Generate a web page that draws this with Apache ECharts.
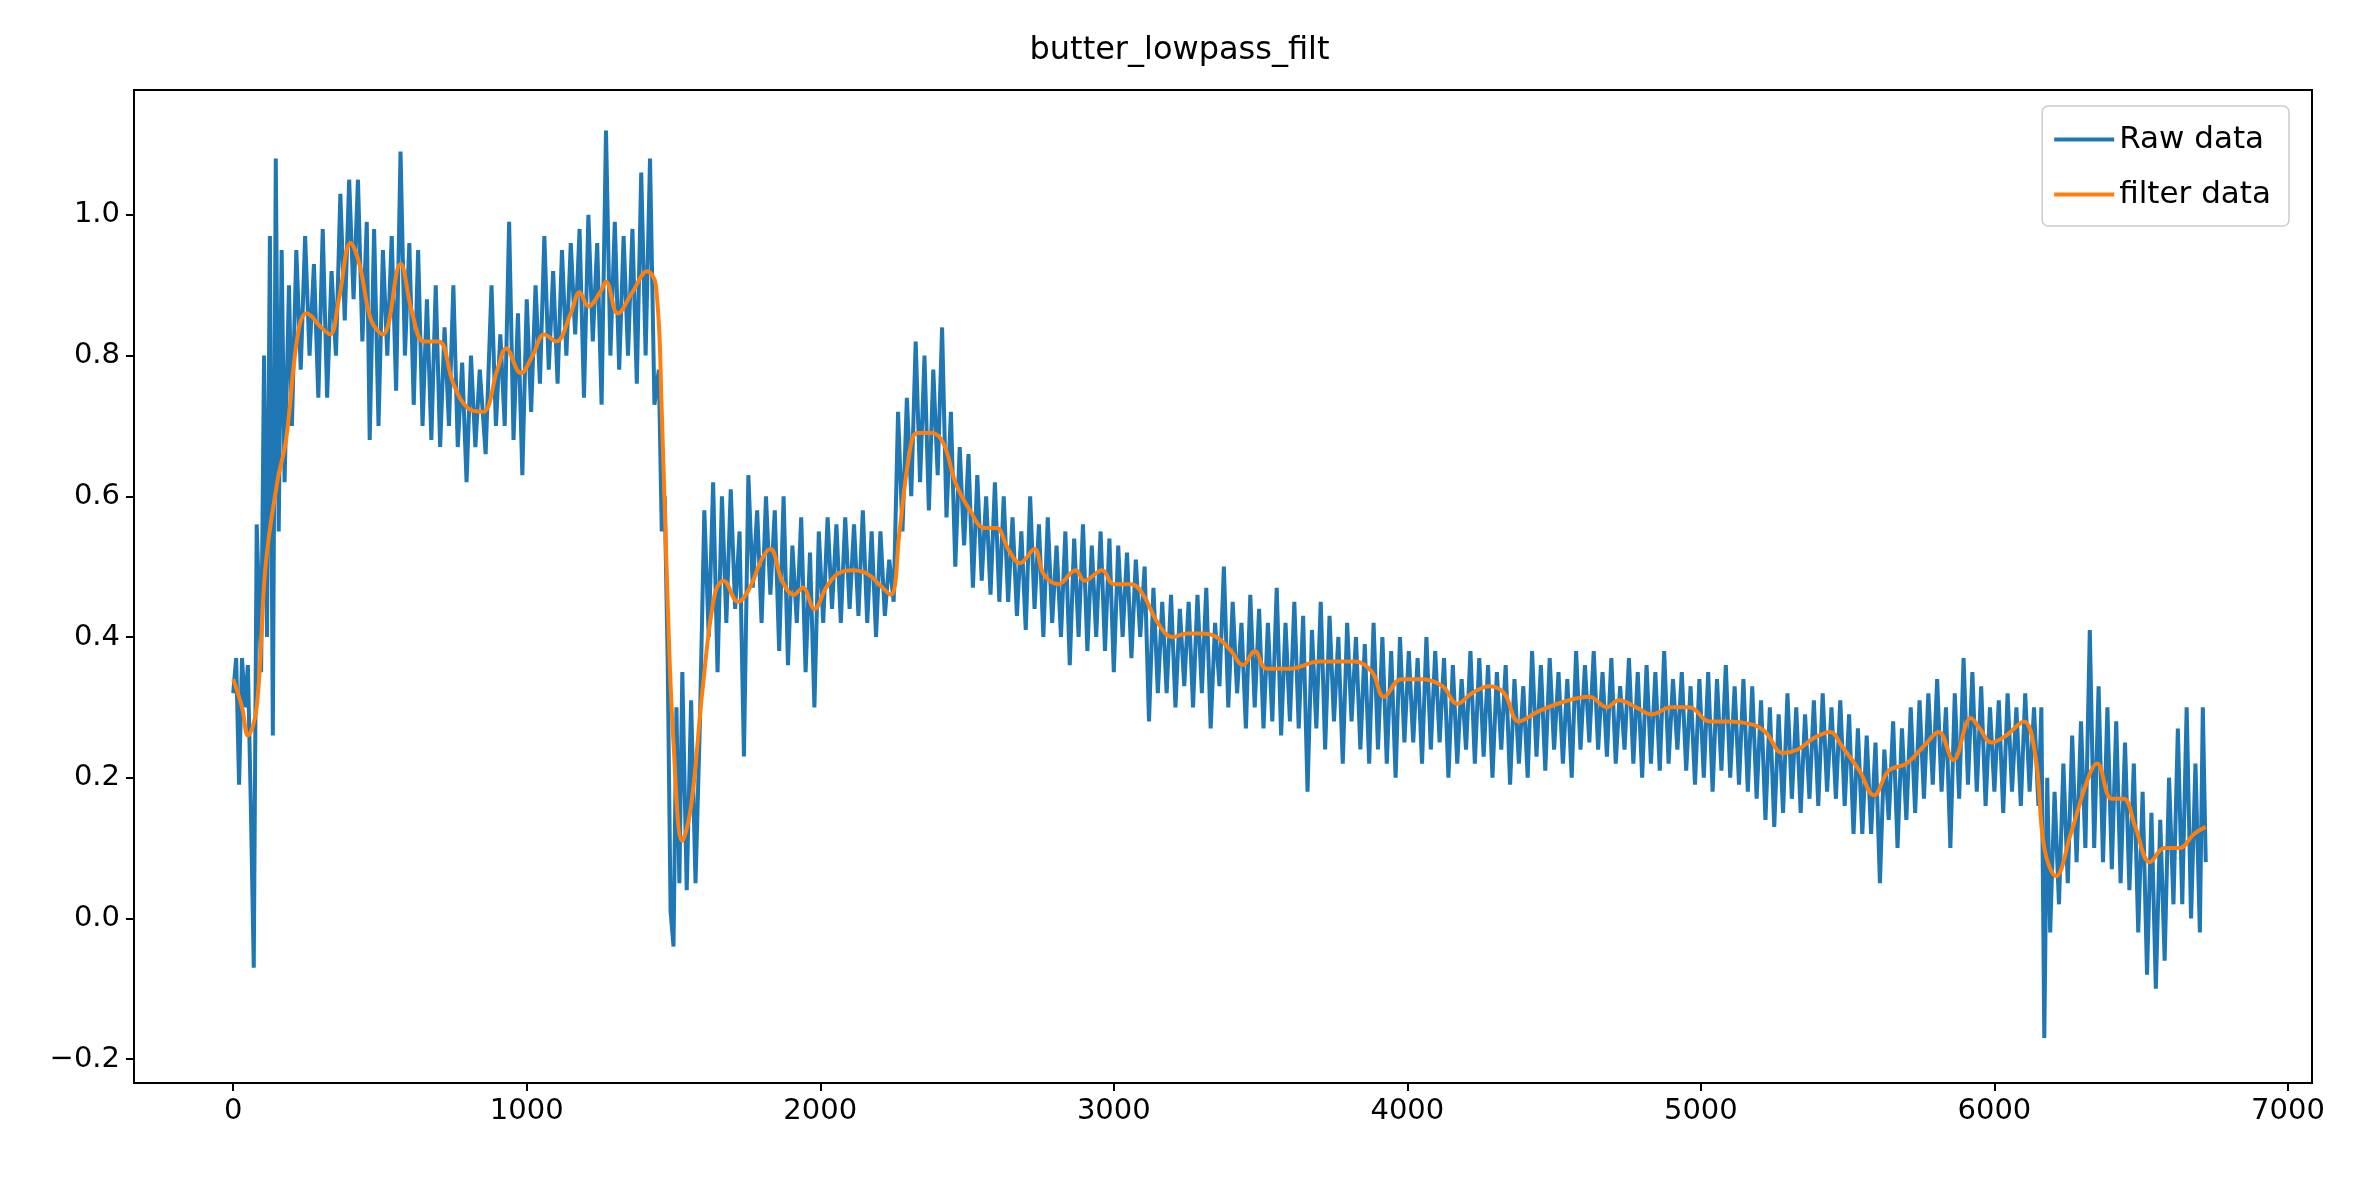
<!DOCTYPE html>
<html><head><meta charset="utf-8">
<script src="https://cdn.jsdelivr.net/npm/echarts@6/dist/echarts.min.js"></script>
<style>html,body{margin:0;padding:0;background:#fff}#c{width:2359px;height:1183px}</style>
</head><body><div id="c"></div>
<script>
const titleText = 'butter_lowpass_filt';
const seriesNames = ['Raw data', 'filter data'];
const yTicks = [-0.2, 0.0, 0.2, 0.4, 0.6, 0.8, 1.0];
const xTicks = [0, 1000, 2000, 3000, 4000, 5000, 6000, 7000];
const rawPoints = [[0,0.32],[10,0.37],[20,0.19],[30,0.37],[40,0.30],[50,0.36],[60,0.16],[70,-0.07],[80,0.56],[95,0.35],[105,0.80],[115,0.40],[125,0.97],[135,0.26],[145,1.08],[155,0.55],[165,0.95],[175,0.62],[190,0.90],[200,0.70],[215,0.95],[230,0.78],[245,0.97],[260,0.80],[275,0.93],[290,0.74],[305,0.98],[320,0.74],[335,0.92],[350,0.80],[365,1.03],[380,0.85],[395,1.05],[410,0.88],[425,1.05],[440,0.82],[455,0.99],[465,0.68],[480,0.98],[495,0.70],[510,0.95],[525,0.80],[540,0.97],[555,0.75],[570,1.09],[585,0.80],[600,0.96],[615,0.73],[630,0.95],[645,0.70],[660,0.88],[675,0.68],[690,0.90],[705,0.67],[720,0.84],[735,0.70],[750,0.90],[765,0.67],[780,0.79],[795,0.62],[810,0.80],[825,0.67],[840,0.78],[860,0.66],[880,0.90],[895,0.70],[910,0.83],[925,0.70],[940,0.99],[955,0.68],[970,0.86],[985,0.63],[1000,0.88],[1015,0.72],[1030,0.90],[1045,0.76],[1060,0.97],[1075,0.78],[1090,0.92],[1105,0.76],[1120,0.95],[1135,0.80],[1150,0.96],[1165,0.83],[1180,0.98],[1195,0.74],[1210,1.00],[1225,0.82],[1240,0.96],[1255,0.73],[1270,1.12],[1285,0.80],[1300,0.99],[1315,0.78],[1330,0.97],[1345,0.80],[1360,0.98],[1375,0.76],[1390,1.06],[1405,0.80],[1420,1.08],[1435,0.73],[1450,0.78],[1460,0.55],[1470,0.60],[1480,0.37],[1490,0.01],[1500,-0.04],[1510,0.30],[1520,0.05],[1530,0.35],[1545,0.04],[1560,0.31],[1575,0.05],[1590,0.28],[1605,0.58],[1620,0.40],[1635,0.62],[1650,0.35],[1665,0.60],[1680,0.42],[1695,0.61],[1710,0.44],[1725,0.55],[1740,0.23],[1755,0.63],[1770,0.47],[1785,0.58],[1800,0.42],[1815,0.60],[1830,0.46],[1845,0.58],[1860,0.38],[1875,0.60],[1890,0.36],[1905,0.53],[1920,0.42],[1935,0.57],[1950,0.35],[1965,0.52],[1980,0.30],[1995,0.55],[2010,0.42],[2025,0.57],[2040,0.44],[2055,0.56],[2070,0.42],[2085,0.57],[2100,0.44],[2115,0.56],[2130,0.43],[2145,0.58],[2160,0.42],[2175,0.55],[2190,0.40],[2205,0.55],[2220,0.43],[2235,0.51],[2250,0.45],[2265,0.72],[2280,0.55],[2295,0.74],[2310,0.60],[2325,0.82],[2340,0.62],[2355,0.80],[2370,0.58],[2385,0.78],[2400,0.63],[2415,0.84],[2430,0.57],[2445,0.72],[2460,0.50],[2475,0.67],[2490,0.53],[2505,0.66],[2520,0.47],[2535,0.63],[2550,0.48],[2565,0.60],[2580,0.46],[2595,0.62],[2610,0.45],[2625,0.60],[2640,0.45],[2655,0.57],[2670,0.43],[2685,0.55],[2700,0.41],[2715,0.60],[2730,0.44],[2745,0.56],[2760,0.40],[2775,0.57],[2790,0.42],[2805,0.53],[2820,0.40],[2835,0.55],[2850,0.36],[2865,0.54],[2880,0.40],[2895,0.56],[2910,0.38],[2925,0.53],[2940,0.40],[2955,0.55],[2970,0.38],[2985,0.54],[3000,0.35],[3015,0.53],[3030,0.40],[3045,0.52],[3060,0.37],[3075,0.51],[3090,0.40],[3105,0.50],[3120,0.28],[3135,0.47],[3150,0.32],[3165,0.45],[3180,0.32],[3195,0.46],[3210,0.30],[3225,0.44],[3240,0.33],[3255,0.45],[3270,0.30],[3285,0.46],[3300,0.32],[3315,0.47],[3330,0.27],[3345,0.42],[3360,0.33],[3375,0.50],[3390,0.30],[3405,0.45],[3420,0.32],[3435,0.42],[3450,0.27],[3465,0.46],[3480,0.30],[3495,0.44],[3510,0.27],[3525,0.42],[3540,0.28],[3555,0.47],[3570,0.26],[3585,0.42],[3600,0.28],[3615,0.45],[3630,0.27],[3645,0.43],[3660,0.18],[3675,0.41],[3690,0.27],[3705,0.45],[3720,0.24],[3735,0.43],[3750,0.28],[3765,0.40],[3780,0.22],[3795,0.42],[3810,0.28],[3825,0.40],[3840,0.24],[3855,0.39],[3870,0.22],[3885,0.42],[3900,0.24],[3915,0.40],[3930,0.22],[3945,0.38],[3960,0.20],[3975,0.40],[3990,0.25],[4005,0.38],[4020,0.25],[4035,0.37],[4050,0.22],[4065,0.40],[4080,0.24],[4095,0.38],[4110,0.25],[4125,0.37],[4140,0.20],[4155,0.36],[4170,0.22],[4185,0.34],[4200,0.24],[4215,0.38],[4230,0.22],[4245,0.37],[4260,0.23],[4275,0.36],[4290,0.20],[4305,0.35],[4320,0.24],[4335,0.36],[4350,0.19],[4365,0.34],[4380,0.22],[4395,0.33],[4410,0.20],[4425,0.38],[4440,0.23],[4455,0.36],[4470,0.21],[4485,0.37],[4500,0.24],[4515,0.35],[4530,0.22],[4545,0.34],[4560,0.20],[4575,0.38],[4590,0.24],[4605,0.36],[4620,0.25],[4635,0.38],[4650,0.24],[4665,0.35],[4680,0.23],[4695,0.37],[4710,0.22],[4725,0.33],[4740,0.24],[4755,0.37],[4770,0.22],[4785,0.35],[4800,0.20],[4815,0.36],[4830,0.22],[4845,0.35],[4860,0.21],[4875,0.38],[4890,0.22],[4905,0.34],[4920,0.24],[4935,0.35],[4950,0.21],[4965,0.33],[4980,0.19],[4995,0.34],[5010,0.20],[5025,0.35],[5040,0.18],[5055,0.34],[5070,0.21],[5085,0.36],[5100,0.20],[5115,0.33],[5130,0.19],[5145,0.34],[5160,0.18],[5175,0.33],[5190,0.17],[5205,0.31],[5220,0.14],[5235,0.30],[5250,0.13],[5265,0.29],[5280,0.15],[5295,0.32],[5310,0.17],[5325,0.30],[5340,0.15],[5355,0.29],[5370,0.17],[5385,0.31],[5400,0.16],[5415,0.32],[5430,0.18],[5445,0.30],[5460,0.17],[5475,0.31],[5490,0.16],[5505,0.29],[5520,0.12],[5535,0.27],[5550,0.12],[5565,0.26],[5580,0.12],[5595,0.25],[5610,0.05],[5625,0.24],[5640,0.14],[5655,0.28],[5670,0.10],[5685,0.27],[5700,0.14],[5715,0.30],[5730,0.15],[5745,0.31],[5760,0.17],[5775,0.32],[5790,0.19],[5805,0.34],[5820,0.18],[5835,0.30],[5850,0.10],[5865,0.32],[5880,0.17],[5895,0.37],[5910,0.19],[5925,0.35],[5940,0.18],[5955,0.33],[5970,0.16],[5985,0.30],[6000,0.18],[6015,0.31],[6030,0.15],[6045,0.32],[6060,0.18],[6075,0.30],[6090,0.16],[6105,0.32],[6120,0.18],[6135,0.30],[6150,0.16],[6160,0.30],[6170,-0.17],[6180,0.20],[6190,-0.02],[6205,0.18],[6220,0.02],[6235,0.22],[6250,0.05],[6265,0.26],[6280,0.08],[6295,0.28],[6310,0.10],[6325,0.41],[6340,0.10],[6355,0.33],[6370,0.08],[6385,0.30],[6400,0.07],[6415,0.28],[6430,0.05],[6445,0.25],[6460,0.04],[6475,0.22],[6490,-0.02],[6505,0.18],[6520,-0.08],[6535,0.15],[6550,-0.10],[6565,0.14],[6580,-0.06],[6595,0.20],[6610,0.02],[6625,0.27],[6640,0.02],[6655,0.30],[6670,0.00],[6685,0.22],[6700,-0.02],[6710,0.30],[6720,0.08]];
const filterPoints = [[0,0.34],[30,0.30],[50,0.26],[80,0.30],[110,0.50],[150,0.62],[180,0.68],[220,0.83],[250,0.86],[300,0.84],[330,0.83],[360,0.88],[400,0.96],[430,0.93],[470,0.85],[510,0.83],[570,0.93],[610,0.86],[650,0.82],[700,0.82],[750,0.76],[800,0.725],[850,0.72],[900,0.78],[930,0.81],[980,0.775],[1020,0.80],[1060,0.83],[1100,0.82],[1150,0.86],[1180,0.89],[1210,0.87],[1250,0.89],[1270,0.905],[1310,0.86],[1360,0.89],[1410,0.92],[1440,0.90],[1460,0.72],[1480,0.45],[1500,0.25],[1530,0.11],[1560,0.16],[1600,0.33],[1640,0.46],[1670,0.48],[1720,0.45],[1760,0.47],[1800,0.51],[1830,0.525],[1870,0.48],[1910,0.46],[1940,0.47],[1980,0.44],[2020,0.47],[2060,0.49],[2110,0.495],[2160,0.49],[2200,0.475],[2240,0.46],[2270,0.55],[2300,0.65],[2330,0.69],[2380,0.69],[2420,0.675],[2460,0.62],[2510,0.58],[2560,0.555],[2600,0.555],[2640,0.525],[2680,0.505],[2730,0.525],[2760,0.49],[2810,0.475],[2870,0.495],[2900,0.48],[2960,0.495],[3000,0.475],[3060,0.475],[3100,0.46],[3150,0.42],[3200,0.40],[3250,0.405],[3300,0.405],[3350,0.40],[3400,0.38],[3440,0.36],[3480,0.38],[3520,0.355],[3600,0.355],[3700,0.365],[3820,0.365],[3880,0.35],[3920,0.315],[3980,0.34],[4050,0.34],[4120,0.33],[4170,0.305],[4220,0.32],[4280,0.33],[4330,0.32],[4380,0.28],[4450,0.295],[4550,0.31],[4620,0.315],[4680,0.30],[4720,0.31],[4780,0.30],[4830,0.29],[4900,0.30],[4960,0.30],[5030,0.28],[5100,0.28],[5180,0.275],[5220,0.265],[5280,0.235],[5330,0.24],[5380,0.255],[5440,0.265],[5480,0.245],[5540,0.21],[5590,0.175],[5640,0.21],[5700,0.22],[5760,0.245],[5810,0.265],[5860,0.225],[5920,0.285],[5950,0.27],[5990,0.25],[6040,0.26],[6100,0.28],[6140,0.23],[6170,0.10],[6210,0.06],[6260,0.12],[6320,0.20],[6350,0.22],[6400,0.17],[6440,0.17],[6480,0.13],[6530,0.08],[6580,0.10],[6630,0.10],[6680,0.12],[6720,0.13]];

const chart = echarts.init(document.getElementById('c'));
const font = 'DejaVu Sans';
chart.setOption({
  animation: false,
  backgroundColor: '#fff',
  title: { text: titleText, left: 'center', top: 30, textStyle: { fontFamily: font, fontSize: 32, fontWeight: 'normal', color: '#000' } },
  legend: {
    right: 70, top: 106, orient: 'vertical', itemWidth: 60, itemHeight: 4, itemGap: 24,
    padding: [18, 18, 16, 12], borderColor: '#ccc', borderWidth: 1.5, borderRadius: 6, backgroundColor: '#fff',
    icon: 'rect', textStyle: { fontFamily: font, fontSize: 31, color: '#000' },
    data: seriesNames
  },
  grid: { left: 134, right: 47, top: 90, bottom: 100, show: true, borderColor: '#000', borderWidth: 2, backgroundColor: '#fff' },
  xAxis: {
    type: 'value', min: -338, max: 7082,
    axisLine: { show: true, onZero: false, lineStyle: { color: '#000', width: 2 } },
    axisTick: { show: true, length: 8, lineStyle: { color: '#000', width: 2 }, customValues: xTicks },
    axisLabel: { fontFamily: font, fontSize: 29, color: '#000', margin: 14, customValues: xTicks, formatter: v => String(v) },
    splitLine: { show: false }
  },
  yAxis: {
    type: 'value', min: -0.234, max: 1.1775,
    axisLine: { show: true, onZero: false, lineStyle: { color: '#000', width: 2 } },
    axisTick: { show: true, length: 8, lineStyle: { color: '#000', width: 2 }, customValues: yTicks },
    axisLabel: { fontFamily: font, fontSize: 29, color: '#000', margin: 14, customValues: yTicks, formatter: v => (v < 0 ? '\u2212' + Math.abs(v).toFixed(1) : v.toFixed(1)) },
    splitLine: { show: false }
  },
  series: [
    { name: seriesNames[0], type: 'line', data: rawPoints, showSymbol: false, symbol: 'none', itemStyle: { color: '#1f77b4' }, lineStyle: { color: '#1f77b4', width: 4 } },
    { name: seriesNames[1], type: 'line', data: filterPoints, smooth: 0.4, showSymbol: false, symbol: 'none', itemStyle: { color: '#ff7f0e' }, lineStyle: { color: '#ff7f0e', width: 4 } }
  ]
});
</script></body></html>
